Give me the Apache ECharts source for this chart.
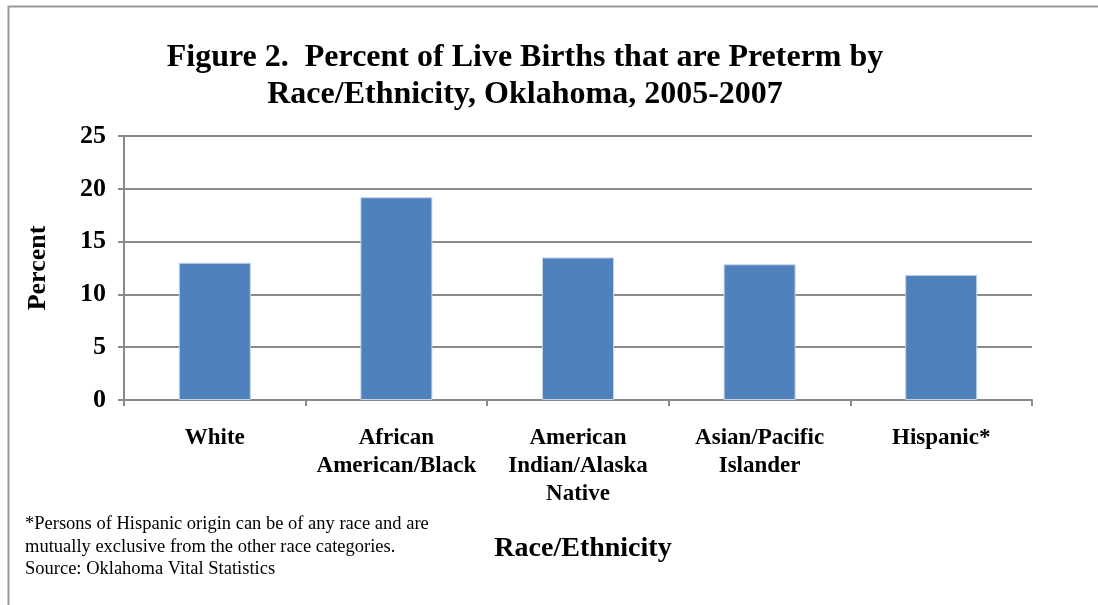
<!DOCTYPE html>
<html>
<head>
<meta charset="utf-8">
<script src="https://cdn.jsdelivr.net/npm/echarts@6/dist/echarts.min.js"></script>
<style>
html,body{margin:0;padding:0;background:#fff;}
#chart{width:1098px;height:605px;}
</style>
</head>
<body>
<div id="chart"></div>
<script>
const categories = ['White', 'African\nAmerican/Black', 'American\nIndian/Alaska\nNative', 'Asian/Pacific\nIslander', 'Hispanic*'];
const values = [13.0, 19.2, 13.5, 12.85, 11.85];
const yTicks = { min: 0, max: 25, interval: 5 };
const titleText = 'Figure 2.  Percent of Live Births that are Preterm by\nRace/Ethnicity, Oklahoma, 2005-2007';
const xName = 'Race/Ethnicity';
const yName = 'Percent';
const footnote = ['*Persons of Hispanic origin can be of any race and are', 'mutually exclusive from the other race categories.', 'Source: Oklahoma Vital Statistics'];

const FONT = '"Liberation Serif", "Times New Roman", serif';
const chart = echarts.init(document.getElementById('chart'), null, { renderer: 'canvas' });
chart.setOption({
  animation: false,
  backgroundColor: '#ffffff',
  title: {
    text: titleText,
    left: 520, top: 34, textAlign: 'center',
    textStyle: { fontFamily: FONT, fontSize: 32, fontWeight: 'bold', color: '#000', lineHeight: 37 }
  },
  grid: { left: 124, right: 66, top: 136, bottom: 205 },
  xAxis: {
    type: 'category',
    data: categories,
    axisLine: { lineStyle: { color: '#8a8a8a', width: 2 } },
    axisTick: { show: true, length: 6, lineStyle: { color: '#8a8a8a', width: 2 } },
    axisLabel: { fontFamily: FONT, fontSize: 23, fontWeight: 'bold', color: '#000', lineHeight: 28, margin: 24, interval: 0 }
  },
  yAxis: {
    type: 'value',
    min: yTicks.min, max: yTicks.max, interval: yTicks.interval,
    name: yName,
    nameLocation: 'middle',
    nameGap: 73,
    nameRotate: 90,
    nameTextStyle: { fontFamily: FONT, fontSize: 26, fontWeight: 'bold', color: '#000' },
    axisLine: { show: true, lineStyle: { color: '#8a8a8a', width: 2 } },
    axisTick: { show: true, length: 6, lineStyle: { color: '#8a8a8a', width: 2 } },
    axisLabel: { fontFamily: FONT, fontSize: 26, fontWeight: 'bold', color: '#000', margin: 18 },
    splitLine: { lineStyle: { color: '#8a8a8a', width: 2 } }
  },
  series: [{
    type: 'bar',
    data: values,
    barWidth: 72,
    itemStyle: { color: '#4F81BD', borderColor: '#c5d3e8', borderWidth: 1 }
  }],
  graphic: [
    { type: 'rect', left: 6, top: 4, shape: { width: 1200, height: 700 }, style: { fill: 'none', stroke: '#9a9a9a', lineWidth: 2 }, silent: true },
    { type: 'text', left: 25, top: 513, style: { text: footnote.join('\n'), font: '18.5px ' + FONT, fill: '#000', lineHeight: 22.5 } },
    { type: 'text', x: 583, y: 549, style: { text: xName, font: 'bold 28px ' + FONT, fill: '#000', align: 'center', verticalAlign: 'middle' } }
  ]
});
</script>
</body>
</html>
